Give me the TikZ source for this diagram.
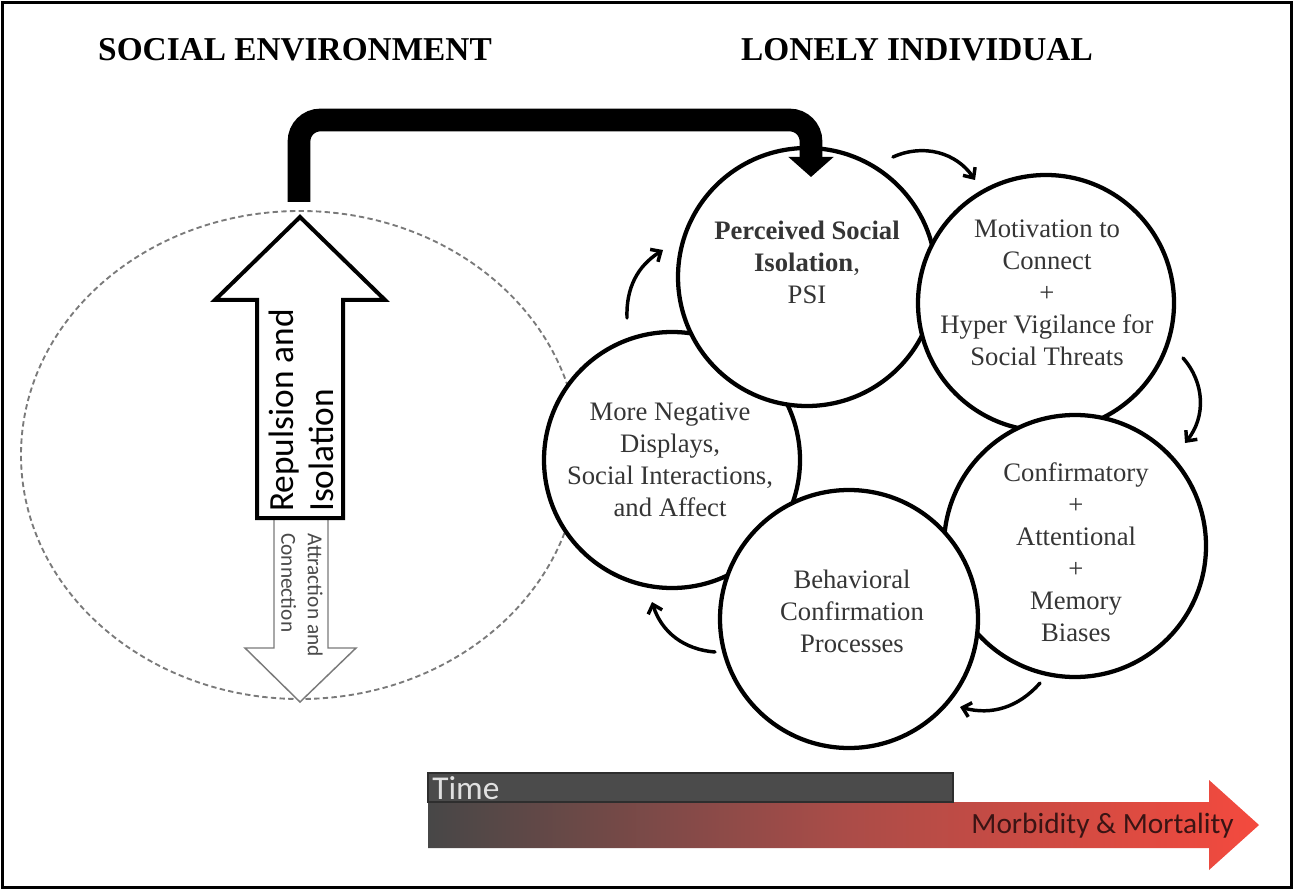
\documentclass[tikz,border=0pt]{standalone}
\usepackage{fontspec}
\setmainfont{Liberation Serif}
\newfontfamily\calib{Carlito}
\usetikzlibrary{arrows.meta}
\definecolor{ink}{HTML}{353535}
\definecolor{softink}{HTML}{4A4A4A}
\definecolor{dashgray}{HTML}{7A7A7A}
\definecolor{timegray}{HTML}{4B4B4B}
\definecolor{timeedge}{HTML}{2E2E2E}
\definecolor{barL}{HTML}{474747}
\definecolor{barM}{HTML}{AA4C48}
\definecolor{barR}{HTML}{F44A3E}
\definecolor{mmtext}{HTML}{3A1414}
\begin{document}
\begin{tikzpicture}[x=0.75pt, y=0.75pt,
  ring/.style={circle, draw=black, line width=3.2pt, fill=white, inner sep=0pt},
  ringtext/.style={align=center, text=ink, inner sep=0pt, font=\fontsize{20}{24}\selectfont},
  cyc/.style={line width=2.6pt, line cap=round, -{Straight Barb[length=6pt,width=11pt]}},
  title/.style={font=\bfseries\fontsize{25}{30}\selectfont, text=black, inner sep=0pt},
  bigarrow/.style={draw=black, line width=3pt, fill=white, line join=miter},
  smallarrow/.style={draw=dashgray, line width=1.1pt, fill=white, line join=miter},
]
\useasboundingbox (0,0) rectangle (1294,890);
% outer frame
\draw[line width=1.6pt] (2.5,2.5) rectangle (1291.5,887.5);

% headings
\node[title] (envTitle) at (295,840) {SOCIAL ENVIRONMENT};
\node[title] (indTitle) at (917,840) {LONELY INDIVIDUAL};

% social environment: dashed field with the two opposed arrows
\draw[dashgray, line width=1.4pt, dash pattern=on 4pt off 2.5pt]
  (300,435) ellipse [x radius=279, y radius=244];
\draw[smallarrow] (328,372) -- (328,242) -- (356,242) -- (300,188)
  -- (245,242) -- (274,242) -- (274,372);
\draw[bigarrow] (257,372) -- (257,590) -- (215,590) -- (300,673)
  -- (385,590) -- (343,590) -- (343,372) -- cycle;
\coordinate (repTop) at (299,688);
\node[rotate=90, anchor=north west, align=left, inner sep=0pt, text=black,
  font=\calib\fontsize{26.5}{30}\selectfont] (repText) at (269,378)
  {Repulsion and\\Isolation};
\node[rotate=-90, anchor=north west, align=left, inner sep=0pt, text=softink,
  font=\calib\fontsize{16}{20}\selectfont] (attText) at (323,357)
  {Attraction and\\Connection};

% the loop of the lonely individual
\node[ring, minimum size=192pt] (neg) at (672,430) {};
\node[ring, minimum size=193.5pt] (psi) at (807,613) {};
\node[ring, minimum size=192pt] (mot) at (1046,587) {};
\node[ring, minimum size=196.5pt] (conf) at (1075,344) {};
\node[ring, minimum size=193.5pt] (beh) at (849,271) {};

\node[ringtext] (psiText) at (807,628)
  {\textbf{Perceived Social}\\\textbf{Isolation},\\PSI};
\node[ringtext] (motText) at (1047,597)
  {Motivation to\\Connect\\+\\Hyper Vigilance for\\Social Threats};
\node[ringtext] (confText) at (1076,338)
  {Confirmatory\\+\\Attentional\\+\\Memory\\Biases};
\node[ringtext] (behText) at (852,279)
  {Behavioral\\Confirmation\\Processes};
\node[ringtext] (negText) at (670,430)
  {More Negative\\Displays,\\Social Interactions,\\and Affect};

% arrows running round the loop
\coordinate (c1s) at (893,733);  \coordinate (c1e) at (975,710);
\coordinate (c2s) at (1183,532); \coordinate (c2e) at (1185,447);
\coordinate (c3s) at (1040,207); \coordinate (c3e) at (960,183);
\coordinate (c4s) at (715,238);  \coordinate (c4e) at (652,288);
\coordinate (c5s) at (627,572);  \coordinate (c5e) at (663,640);
\draw[cyc] (c1s) to[bend left=40] (c1e);
\draw[cyc] (c2s) to[bend left=40] (c2e);
\draw[cyc] (c3s) to[bend left=32] (c3e);
\draw[cyc] (c4s) to[bend left=34] (c4e);
\draw[cyc] (c5s) to[bend left=30] (c5e);

% environment feeding perceived isolation
\coordinate (psiIn) at (811,713);
\draw[line width=17pt, rounded corners=16pt,
  -{Triangle[width=33pt,length=15pt]}]
  (repTop) -- (299,770) -- (811,770) -- (psiIn);

% time axis
\shade[left color=barL, right color=barR, middle color=barM]
  (428,42) -- (1209,42) -- (1209,20) -- (1259,65) -- (1209,110)
  -- (1209,88) -- (428,88) -- cycle;
\draw[fill=timegray, draw=timeedge, line width=0.9pt] (428,88) rectangle (953,117);
\node[anchor=west, inner sep=0pt, text=white!88!black,
  font=\calib\fontsize{25}{27}\selectfont] (timeText) at (432,102) {Time};
\node[anchor=east, inner sep=0pt, text=mmtext,
  font=\calib\fontsize{22}{24}\selectfont] (mmText) at (1234,64)
  {Morbidity \& Mortality};
\end{tikzpicture}
\end{document}
